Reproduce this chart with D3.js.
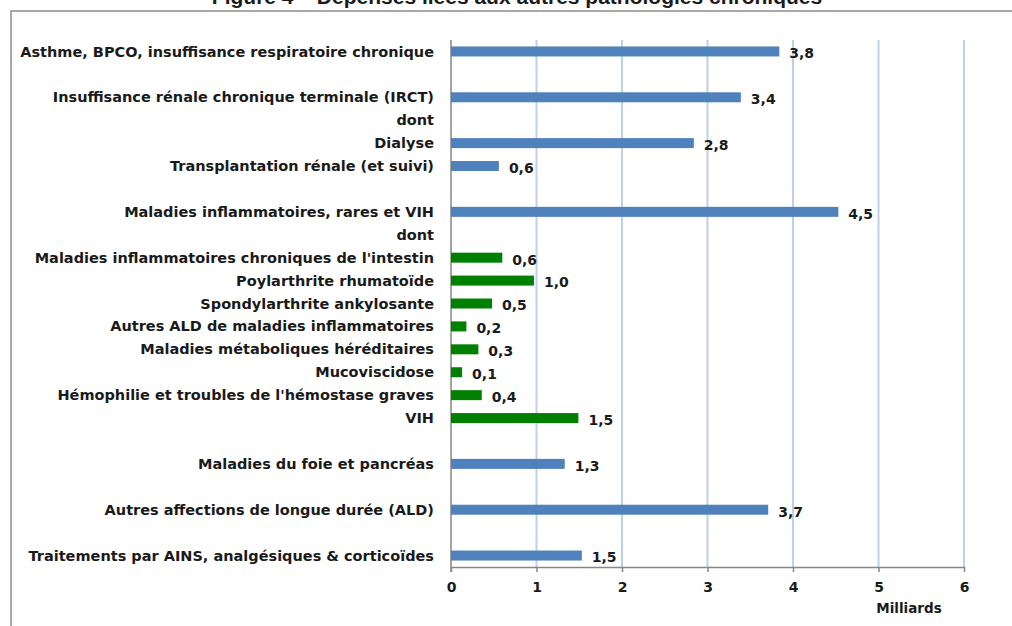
<!DOCTYPE html>
<html>
<head>
<meta charset="utf-8">
<script src="https://cdn.jsdelivr.net/npm/d3@7"></script>
<style>
  body { margin: 0; background: #fff; }
  text { font-family: "DejaVu Sans", sans-serif; fill: #1a1a1a; }
</style>
</head>
<body>
<div id="chart"></div>
<script>
// rows from top to bottom, "" = empty slot
const labels = ["Asthme, BPCO, insuffisance respiratoire chronique",
    "",
    "Insuffisance rénale chronique terminale (IRCT)",
    "dont",
    "Dialyse",
    "Transplantation rénale (et suivi)",
    "",
    "Maladies inflammatoires, rares et VIH",
    "dont",
    "Maladies inflammatoires chroniques de l'intestin",
    "Poylarthrite rhumatoïde",
    "Spondylarthrite ankylosante",
    "Autres ALD de maladies inflammatoires",
    "Maladies métaboliques héréditaires",
    "Mucoviscidose",
    "Hémophilie et troubles de l'hémostase graves",
    "VIH",
    "",
    "Maladies du foie et pancréas",
    "",
    "Autres affections de longue durée (ALD)",
    "",
    "Traitements par AINS, analgésiques & corticoïdes"];
// spending in billions, null = no bar
const values = [3.84, null, 3.39, null, 2.84, 0.56, null, 4.53, null,
    0.6, 0.97, 0.48, 0.18, 0.32, 0.13, 0.36, 1.49, null, 1.33, null, 3.71, null, 1.53];
// "main" = blue, "sub" = green detail rows
const groups = ["main", "", "main", "", "main", "main", "", "main", "",
    "sub", "sub", "sub", "sub", "sub", "sub", "sub", "sub", "", "main", "", "main", "", "main"];
const xTicks = [0, 1, 2, 3, 4, 5, 6];

const width = 1012, height = 626;
var margin = { top: 40, right: 48, bottom: 59, left: 451 };

var svg = d3.select("#chart").append("svg")
    .attr("width", width)
    .attr("height", height);

// title, mostly above the page edge (cut like in the source)
svg.append("text")
    .attr("x", 517).attr("y", 4)
    .attr("text-anchor", "middle")
    .style("font-family", "'Liberation Sans', Arial, sans-serif")
    .style("font-weight", "bold")
    .style("font-size", "21px")
    .text("Figure 4 – Dépenses liées aux autres pathologies chroniques");

// frame of the chart area
svg.append("rect")
    .attr("x", 11).attr("y", 11)
    .attr("width", 1020).attr("height", 640)
    .attr("fill", "none")
    .attr("stroke", "#8c8c8c")
    .attr("stroke-width", 1.5);

var x = d3.scaleLinear()
    .domain([0, 6])
    .range([margin.left, width - margin.right]);

var y = d3.scaleBand()
    .domain(d3.range(labels.length))
    .range([margin.top, height - margin.bottom]);

const color = d3.scaleOrdinal()
    .domain(["main", "sub"])
    .range(["#4f81bd", "#008000"]);

const y0 = margin.top, y1 = height - margin.bottom;

// vertical gridlines
svg.append("g")
    .selectAll("line")
    .data(xTicks.slice(1))
    .enter().append("line")
    .attr("x1", d => x(d)).attr("x2", d => x(d))
    .attr("y1", y0).attr("y2", y1)
    .attr("stroke", "#bfd0ea")
    .attr("stroke-width", 2);

// x axis
var xAxis = svg.append("g")
    .attr("transform", "translate(0," + y1 + ")")
    .call(d3.axisBottom(x).tickValues(xTicks).tickFormat(d3.format("d"))
        .tickSize(5).tickSizeOuter(0).tickPadding(10));
xAxis.select(".domain").attr("stroke", "#868686").attr("stroke-width", 1.5);
xAxis.selectAll(".tick line").attr("stroke", "#868686").attr("stroke-width", 1.5);
xAxis.selectAll(".tick text")
    .style("font-size", "14px").style("font-weight", "bold")
    .attr("fill", "#1a1a1a");

svg.append("text")
    .attr("x", 909).attr("y", 613)
    .attr("text-anchor", "middle")
    .style("font-size", "13.5px").style("font-weight", "bold")
    .text("Milliards");

// y axis line
svg.append("line")
    .attr("x1", x(0)).attr("x2", x(0))
    .attr("y1", y0).attr("y2", y1 + 5)
    .attr("stroke", "#868686").attr("stroke-width", 1.5);

// category labels
svg.append("g")
    .selectAll("text")
    .data(labels)
    .enter().append("text")
    .attr("x", x(0) - 17)
    .attr("y", (d, i) => y(i) + y.bandwidth() / 2)
    .attr("dy", "0.35em")
    .attr("text-anchor", "end")
    .style("font-size", "14.5px").style("font-weight", "bold")
    .text(d => d);

const rows = values.map((v, i) => ({ i: i, v: v, g: groups[i] })).filter(d => d.v !== null);
const barH = 10;

svg.append("g")
    .selectAll("rect")
    .data(rows)
    .enter().append("rect")
    .attr("x", x(0))
    .attr("y", d => y(d.i) + y.bandwidth() / 2 - barH / 2)
    .attr("width", d => x(d.v) - x(0))
    .attr("height", barH)
    .attr("fill", d => color(d.g));

const fmt = d3.format(".1f");
svg.append("g")
    .selectAll("text")
    .data(rows)
    .enter().append("text")
    .attr("x", d => x(d.v) + 10)
    .attr("y", d => y(d.i) + y.bandwidth() / 2 + 2)
    .attr("dy", "0.35em")
    .style("font-size", "14px").style("font-weight", "bold")
    .text(d => fmt(d.v).replace(".", ","));
</script>
</body>
</html>
